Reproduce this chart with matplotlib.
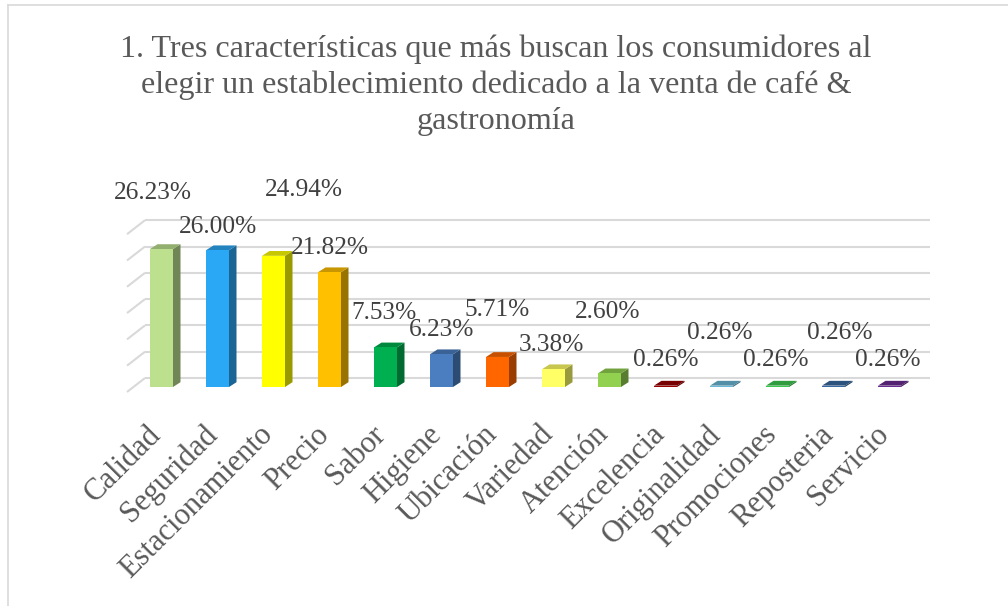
import numpy as np
import matplotlib.pyplot as plt
from matplotlib.patches import Polygon, Rectangle
from matplotlib.colors import to_rgb

# Data
categories = ['Calidad', 'Seguridad', 'Estacionamiento', 'Precio', 'Sabor', 'Higiene',
              'Ubicación', 'Variedad', 'Atención', 'Excelencia', 'Originalidad',
              'Promociones', 'Reposteria', 'Servicio']
values = [26.23, 26.00, 24.94, 21.82, 7.53, 6.23, 5.71, 3.38, 2.60,
          0.26, 0.26, 0.26, 0.26, 0.26]
colors = ['#BDE08F', '#2BA8F5', '#FFFF00', '#FFC000', '#00B050', '#4A7EC0',
          '#FF6600', '#FFFF66', '#92D050', '#990000', '#6BB8D8', '#3CC84E',
          '#386AA0', '#6A2C91']
title = ('1. Tres características que más buscan los consumidores al\n'
         'elegir un establecimiento dedicado a la venta de café &\n'
         'gastronomía')

# where Excel put the data labels (x shift in categories, centre height in %)
label_dx = [-0.15, 0, 0.55, 0, -0.03, 0, 0, -0.03, -0.03, 0, -0.03, -0.03, 0.11, -0.04]
label_y = [36.9, 30.4, 37.5, 26.4, 14.1, 10.8, 14.6, 8.0, 14.3, 5.1, 10.3, 5.1, 10.3, 5.1]

plt.rcParams['font.family'] = 'Liberation Serif'

# Layout: pixel geometry of the original
W, H = 1008, 606
step = 56.0        # px between categories
x_first = 161.5    # px of first category
y_zero = 387.0     # px of the 0 % level (front)
ppu = 5.26         # px per 1 %

fig = plt.figure(figsize=(W / 100, H / 100), dpi=100)
ax = fig.add_axes([0, 0, 1, 1])
ax.set_xlim(-x_first / step, (W - x_first) / step)
ax.set_ylim((y_zero - H) / ppu, y_zero / ppu)
ax.axis('off')

# chart border
fig.add_artist(plt.Line2D([8 / W, 8 / W], [0, 1 - 5 / H], color='#D9D9D9', lw=1.2))
fig.add_artist(plt.Line2D([8 / W, 1], [1 - 5 / H, 1 - 5 / H], color='#D9D9D9', lw=1.2))

# back wall gridlines with the 3D stubs on the left
back_dy = 1.71
front_dy = -0.95
x_stub0 = (127 - x_first) / step
x_stub1 = (145 - x_first) / step
x_end = (930 - x_first) / step
for g in np.arange(0, 31, 5):
    ax.plot([x_stub0, x_stub1], [g + front_dy, g + back_dy], color='#D9D9D9', lw=1.5,
            zorder=1, solid_capstyle='butt')
    ax.plot([x_stub1, x_end], [g + back_dy, g + back_dy], color='#D9D9D9', lw=1.5,
            zorder=1, solid_capstyle='butt')

# pseudo 3D bars
w = 23 / step
dx = 7.5 / step
dy = 4.8 / ppu
for i, (v, c) in enumerate(zip(values, colors)):
    rgb = np.array(to_rgb(c))
    x0, x1 = i - w / 2, i + w / 2
    side = Polygon([(x1, 0), (x1 + dx, dy), (x1 + dx, v + dy), (x1, v)],
                   closed=True, fc=rgb * 0.6, ec='none', zorder=3)
    top = Polygon([(x0, v), (x1, v), (x1 + dx, v + dy), (x0 + dx, v + dy)],
                  closed=True, fc=rgb * 0.78, ec='none', zorder=3)
    ax.add_patch(side)
    ax.add_patch(top)
    ax.add_patch(Rectangle((x0, 0), w, v, fc=c, ec='none', zorder=4))

    ax.text(i + label_dx[i], label_y[i], '{:.2f}%'.format(v), ha='center', va='center',
            fontsize=18.3, color='#404040', zorder=5)

    ax.text(i - 15 / step, (y_zero - 420) / ppu, categories[i], rotation=45,
            rotation_mode='anchor', ha='right', va='top', fontsize=22, color='#595959')

fig.text(496 / W, 1 - 85 / H, title, ha='center', va='center', fontsize=23.1,
         color='#595959', linespacing=1.3)

plt.savefig('out.png', dpi=100)
